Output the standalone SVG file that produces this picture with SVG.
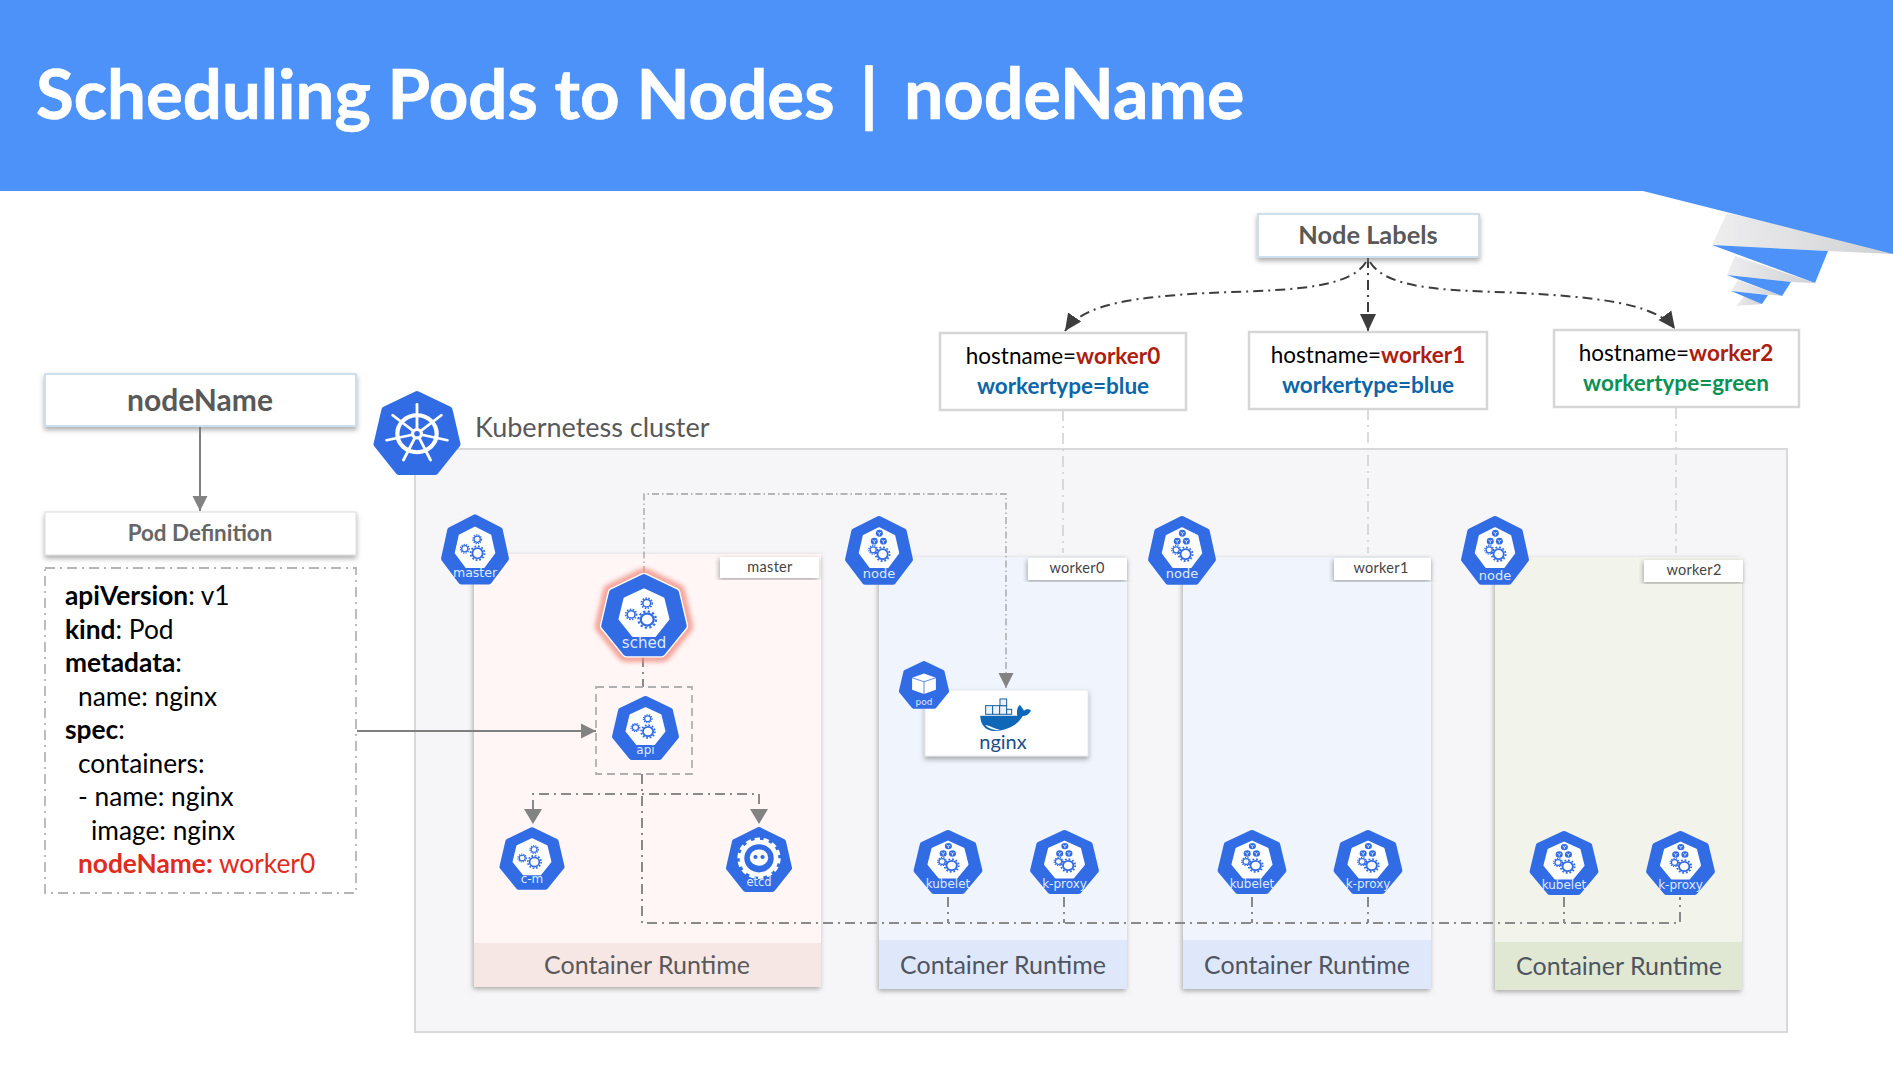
<svg xmlns="http://www.w3.org/2000/svg" xmlns:xlink="http://www.w3.org/1999/xlink" width="1893" height="1086" viewBox="0 0 1893 1086">
<style>
text{font-family:"Lato","Carlito","Open Sans","Noto Sans",sans-serif}
.hl{fill:#dfeafc;text-anchor:middle;font-family:"DejaVu Sans","Noto Sans",sans-serif}
.rt{font-size:25px;text-anchor:middle}
.tag{font-size:14.5px;fill:#444;text-anchor:middle;letter-spacing:.3px}
.tagbox{fill:#fff}
.y{font-size:26.3px;fill:#000}
.b{font-weight:700}
.lab{font-size:22.5px;fill:#000;text-anchor:middle}
.w{font-weight:700;fill:#ad1d10}
.bl{font-weight:700;fill:#0c66a8}
.gr{font-weight:700;fill:#0b9153}
.lb{fill:#fff;stroke:#d6d6d6;stroke-width:2.5}
.hbox{fill:#fff;stroke:#cddfed;stroke-width:2;filter:url(#sh)}
.dd{fill:none;stroke:#8a8a8a;stroke-width:2;stroke-dasharray:10 5 2 5}
.thin{fill:none;stroke:#a0a0a0;stroke-width:1.3;stroke-dasharray:7 3 1.5 3}
.dk{fill:none;stroke:#3d3d3d;stroke-width:2;stroke-dasharray:10 5 2 5}
.lt{fill:none;stroke:#cfcfcf;stroke-width:1.5;stroke-dasharray:11 5 2 5}
.sol{fill:none;stroke:#7f7f7f;stroke-width:2}
.dash{fill:none;stroke:#b0b0b0;stroke-width:1.8;stroke-dasharray:8 5}
.gear{fill:none;stroke:#326ce5}
</style>
<defs>
<filter id="sh" x="-10%" y="-10%" width="120%" height="130%"><feDropShadow dx="0" dy="3" stdDeviation="2.5" flood-color="#777" flood-opacity=".6"/></filter>
<filter id="pn" x="-5%" y="-5%" width="110%" height="110%"><feDropShadow dx="-1" dy="2" stdDeviation="2.4" flood-color="#666" flood-opacity=".55"/></filter>
<filter id="glow" x="-20%" y="-20%" width="140%" height="140%"><feGaussianBlur stdDeviation="5"/></filter>
<linearGradient id="rib" x1="0" x2="1"><stop offset="0" stop-color="#eeeeef"/><stop offset="1" stop-color="#cfd0d3"/></linearGradient>
<marker id="ag" markerUnits="userSpaceOnUse" markerWidth="16" markerHeight="16" refX="15" refY="8" orient="auto"><path d="M0,0.5L15,8L0,15.5Z" fill="#838383"/></marker>
<marker id="ad" markerUnits="userSpaceOnUse" markerWidth="18" markerHeight="18" refX="17" refY="9" orient="auto"><path d="M0,1L17,9L0,17Z" fill="#3d3d3d"/></marker>
<path id="hp" d="M0,-92L68,-57L85,21L38,83L-38,83L-85,21L-68,-57Z" fill="#326ce5" stroke="#326ce5" stroke-width="16" stroke-linejoin="round"/>
<g id="g-lg"><circle r="14" class="gear" stroke-width="5"/><circle r="19" class="gear" stroke-width="5" stroke-dasharray="5 5"/></g>
<g id="g-sm"><circle r="8.5" class="gear" stroke-width="3.5"/><circle r="12" class="gear" stroke-width="3.5" stroke-dasharray="3.4 3.1"/></g>
<g id="ic-ctl">
<use xlink:href="#hp"/>
<path d="M0,-64L42,-43L53,5L24,44L-24,44L-53,5L-42,-43Z" fill="#fff" stroke="#fff" stroke-width="5" stroke-linejoin="round"/>
<use xlink:href="#g-lg" transform="translate(7,6)"/>
<use xlink:href="#g-sm" transform="translate(6,-32)"/>
<use xlink:href="#g-sm" transform="translate(-28,-6)"/>
</g>
<g id="cube"><circle r="9.5" fill="#326ce5"/><path d="M-5,-3L0,0L5,-3M0,0V6" fill="none" stroke="#fff" stroke-width="2"/></g>
<g id="ic-node">
<use xlink:href="#hp"/>
<path d="M0,-66L42,-45L53,3L24,42L-24,42L-53,3L-42,-45Z" fill="#fff" stroke="#fff" stroke-width="5" stroke-linejoin="round"/>
<use xlink:href="#cube" transform="translate(1,-52)"/>
<use xlink:href="#cube" transform="translate(-13,-30)"/>
<use xlink:href="#cube" transform="translate(12,-30)"/>
<use xlink:href="#g-lg" transform="translate(10,6)"/>
<use xlink:href="#g-sm" transform="translate(-16,-6)"/>
</g>
</defs>
<rect width="1893" height="1086" fill="#fff"/>
<g id="banner">
<path d="M1727,213L1712,245L1827,251L1893,254L1893,250Z" fill="url(#rib)"/>
<path d="M1735,256L1727,275L1791,282L1815,283Z" fill="url(#rib)"/>
<path d="M1738,280L1731,291L1782,296Z" fill="url(#rib)"/>
<path d="M1748,292L1736,306L1762,304Z" fill="url(#rib)"/>
<path d="M0,0H1893V254L1643,191H0Z" fill="#4d92f8"/>
<path d="M1712,245L1828,251L1815,283Z" fill="#4d92f8"/>
<path d="M1727,275L1791,282L1782,296Z" fill="#4d92f8"/>
<path d="M1731,291L1768,295L1762,304Z" fill="#4d92f8"/>
<text y="119" font-size="69" font-weight="700" fill="#fff" stroke="#fff" stroke-width=".7"><tspan x="36">Scheduling Pods to Nodes</tspan> <tspan x="860">|</tspan> <tspan x="904" font-size="70">nodeName</tspan></text>
</g>
<g id="cluster">
<rect x="415" y="449" width="1372" height="583" fill="#f6f6f8" stroke="#d9d9dc" stroke-width="2"/>
<text x="475" y="437" font-size="27" fill="#595959">Kubernetess cluster</text>
<g transform="translate(417,435) scale(.468,.44)">
<use xlink:href="#hp"/>
<g fill="none" stroke="#fff">
<circle cy="-3" r="42" stroke-width="9"/>
<g stroke-width="6" stroke-linecap="round"><path d="M0,-3V-70"/><path d="M0,-3L52,-45"/><path d="M0,-3L65,12"/><path d="M0,-3L29,57"/><path d="M0,-3L-29,57"/><path d="M0,-3L-65,12"/><path d="M0,-3L-52,-45"/></g>
</g>
<circle cy="-3" r="13" fill="#fff"/><circle cy="-3" r="6" fill="#326ce5"/>
</g>
</g>
<g id="panel-master">
<rect x="474" y="554" width="347" height="433" fill="#fff6f5" filter="url(#pn)"/>
<rect x="474" y="943" width="347" height="44" fill="#f6e6e4"/>
<text class="rt" x="647" y="974" fill="#595959">Container Runtime</text>
<rect class="tagbox" x="720" y="557" width="99" height="21" filter="url(#pn)"/>
<text class="tag" x="770" y="572">master</text>
</g>
<g id="panel-worker0">
<rect x="879" y="557" width="248" height="432" fill="#eff4fd" filter="url(#pn)"/>
<rect x="879" y="940" width="248" height="49" fill="#dfe8fb"/>
<text class="rt" x="1003" y="974" fill="#4f5560">Container Runtime</text>
<rect class="tagbox" x="1028" y="558" width="99" height="22" filter="url(#pn)"/>
<text class="tag" x="1077" y="573">worker0</text>
</g>
<g id="panel-worker1">
<rect x="1183" y="557" width="248" height="432" fill="#eff4fd" filter="url(#pn)"/>
<rect x="1183" y="940" width="248" height="49" fill="#dfe8fb"/>
<text class="rt" x="1307" y="974" fill="#4f5560">Container Runtime</text>
<rect class="tagbox" x="1334" y="558" width="97" height="22" filter="url(#pn)"/>
<text class="tag" x="1381" y="573">worker1</text>
</g>
<g id="panel-worker2">
<rect x="1495" y="557" width="247" height="433" fill="#f2f4ec" filter="url(#pn)"/>
<rect x="1495" y="942" width="247" height="48" fill="#e0e8d3"/>
<text class="rt" x="1619" y="975" fill="#4f5560">Container Runtime</text>
<rect class="tagbox" x="1644" y="560" width="99" height="22" filter="url(#pn)"/>
<text class="tag" x="1694" y="575">worker2</text>
</g>
<g id="connectors">
<path class="sol" d="M200,427V511" marker-end="url(#ag)"/>
<path class="sol" d="M357,731H596" marker-end="url(#ag)"/>
<path class="thin" d="M644,573V494H1006V688" marker-end="url(#ag)"/>
<path class="dd" d="M643,657V687"/>
<path class="dd" d="M642,774V923H1680V897"/>
<path class="dd" d="M533,810V794H759V810"/>
<path d="M524,809H542L533,824ZM750,809H768L759,824Z" fill="#838383"/>
<path class="dd" d="M948,897V923M1064,897V923M1252,897V923M1368,897V923M1564,897V923"/>
<path class="dk" d="M1368,258V331" marker-end="url(#ad)"/>
<path class="dk" d="M1366,262C1348,292 1270,290 1207,293C1140,297 1085,302 1065,331" marker-end="url(#ad)"/>
<path class="dk" d="M1370,262C1388,292 1460,290 1521,293C1590,297 1655,302 1675,329" marker-end="url(#ad)"/>
<path class="lt" d="M1063,410V553M1368,409V553M1676,408V553"/>
</g>
<g id="nodeName-box"><rect class="hbox" x="45" y="374" width="311" height="52"/><text x="200" y="411" font-size="30" font-weight="700" fill="#595959" text-anchor="middle">nodeName</text></g>
<g id="podDefinition-box"><rect x="45" y="512" width="311" height="43" fill="#fff" stroke="#ddd" filter="url(#sh)"/><text x="200" y="541" font-size="22.4" font-weight="700" fill="#666" text-anchor="middle">Pod Definition</text></g>
<g id="podSpec">
<rect x="45" y="568" width="311" height="325" fill="#fff" stroke="#b5b5b5" stroke-width="1.8" stroke-dasharray="10 5 2 5"/>
<text class="y" x="65" y="605"><tspan class="b">apiVersion</tspan>: v1</text>
<text class="y" x="65" y="638.500"><tspan class="b">kind</tspan>: Pod</text>
<text class="y" x="65" y="672"><tspan class="b">metadata</tspan>:</text>
<text class="y" x="78" y="705.500">name: nginx</text>
<text class="y" x="65" y="739"><tspan class="b">spec</tspan>:</text>
<text class="y" x="78" y="772.500">containers:</text>
<text class="y" x="78" y="806">- name: nginx</text>
<text class="y" x="91" y="839.500">image: nginx</text>
<text class="y" x="78" y="873" style="fill:#e02b1d"><tspan class="b">nodeName:</tspan> worker0</text>
</g>
<g id="nodeLabels-box"><rect class="hbox" x="1258" y="214" width="221" height="43"/><text x="1368" y="244" font-size="25.4" font-weight="700" fill="#595959" text-anchor="middle">Node Labels</text></g>
<g id="labels-worker0"><rect class="lb" x="940" y="333" width="246" height="77"/><text class="lab" x="1063" y="364">hostname=<tspan class="w">worker0</tspan></text><text class="lab" x="1063" y="394"><tspan class="bl">workertype=blue</tspan></text></g>
<g id="labels-worker1"><rect class="lb" x="1249" y="332" width="238" height="77"/><text class="lab" x="1368" y="363">hostname=<tspan class="w">worker1</tspan></text><text class="lab" x="1368" y="393"><tspan class="bl">workertype=blue</tspan></text></g>
<g id="labels-worker2"><rect class="lb" x="1554" y="330" width="245" height="77"/><text class="lab" x="1676" y="361">hostname=<tspan class="w">worker2</tspan></text><text class="lab" x="1676" y="391"><tspan class="gr">workertype=green</tspan></text></g>
<g id="master"><use xlink:href="#ic-ctl" transform="translate(475,551) scale(.365,.367)"/><text class="hl" x="475" y="577" font-size="12.5">master</text></g>
<g id="sched">
<path d="M0,-92L68,-57L85,21L38,83L-38,83L-85,21L-68,-57Z" transform="translate(644,617) scale(.46,.43)" fill="#f08d80" stroke="#f08d80" stroke-width="44" stroke-linejoin="round" opacity=".75" filter="url(#glow)"/>
<path d="M0,-92L68,-57L85,21L38,83L-38,83L-85,21L-68,-57Z" transform="translate(644,617) scale(.46,.43)" fill="#fff" stroke="#fff" stroke-width="22" stroke-linejoin="round"/>
<use xlink:href="#ic-ctl" transform="translate(644,617) scale(.46,.43)"/><text class="hl" x="644" y="648" font-size="15">sched</text></g>
<g id="apiBox"><rect class="dash" x="596" y="687" width="96" height="87"/></g>
<g id="api"><use xlink:href="#ic-ctl" transform="translate(645.5,729.500) scale(.36,.335)"/><text class="hl" x="645.5" y="754" font-size="12">api</text></g>
<g id="c-m"><use xlink:href="#ic-ctl" transform="translate(532,860) scale(.35,.328)"/><text class="hl" x="532" y="883" font-size="12">c-m</text></g>
<g id="etcd"><g transform="translate(759,861) scale(.355,.34)"><use xlink:href="#hp"/><circle cy="-8" r="48" fill="none" stroke="#fff" stroke-width="13"/><circle cy="-8" r="56" fill="none" stroke="#fff" stroke-width="10" stroke-dasharray="15 10"/><ellipse cy="-10" rx="26" ry="24" fill="#fff"/><circle cx="-10" cy="-12" r="6" fill="#326ce5"/><circle cx="10" cy="-12" r="6" fill="#326ce5"/></g><text class="hl" x="759" y="886" font-size="11.5">etcd</text></g>
<g id="node-w0"><use xlink:href="#ic-node" transform="translate(879,552) scale(.365,.361)"/><text class="hl" x="879" y="578" font-size="13">node</text></g>
<g id="node-w1"><use xlink:href="#ic-node" transform="translate(1182,552) scale(.365,.361)"/><text class="hl" x="1182" y="578" font-size="13">node</text></g>
<g id="node-w2"><use xlink:href="#ic-node" transform="translate(1495,552) scale(.365,.361)"/><text class="hl" x="1495" y="580" font-size="13">node</text></g>
<g id="nginx">
<rect x="925" y="690" width="163" height="66" fill="#fff" stroke="#e4e8f0" filter="url(#sh)"/>
<g transform="translate(830,500) scale(.3333)">
<g fill="#eaf2fa" stroke="#1a5e9e" stroke-width="3"><rect x="467" y="617" width="21" height="26"/><rect x="488" y="617" width="21" height="26"/><rect x="509" y="617" width="21" height="26"/><rect x="510" y="597" width="20" height="20"/><rect x="530" y="628" width="15" height="15"/></g>
<path d="M451,647H562C558,630 566,615 570,615C576,622 580,628 582,632C590,626 598,627 603,632C598,642 588,648 578,648C560,680 525,693 490,693C465,693 450,670 451,647Z" fill="#0f67b8"/>
<path d="M465,675C478,688 495,691 510,690C490,684 478,677 465,675Z" fill="#fff"/>
</g>
<text x="1003" y="749" font-size="20" fill="#1a4f8a" text-anchor="middle">nginx</text>
</g>
<g id="pod"><g transform="translate(924,686) scale(.27,.25)"><use xlink:href="#hp"/><path d="M0,-50L44,-33V15L0,32L-44,15V-33Z" fill="#fff"/><path d="M-44,-33L0,-17L44,-33M0,-17V32" fill="none" stroke="#326ce5" stroke-width="3"/></g><text class="hl" x="924" y="705" font-size="9">pod</text></g>
<g id="kubelet-w0"><use xlink:href="#ic-node" transform="translate(948,863.500) scale(.37,.335)"/><text class="hl" x="948" y="888" font-size="12">kubelet</text></g>
<g id="kproxy-w0"><use xlink:href="#ic-node" transform="translate(1064.5,863.500) scale(.37,.335)"/><text class="hl" x="1064.5" y="888" font-size="12">k-proxy</text></g>
<g id="kubelet-w1"><use xlink:href="#ic-node" transform="translate(1252,863.500) scale(.37,.335)"/><text class="hl" x="1252" y="888" font-size="12">kubelet</text></g>
<g id="kproxy-w1"><use xlink:href="#ic-node" transform="translate(1368,863.500) scale(.37,.335)"/><text class="hl" x="1368" y="888" font-size="12">k-proxy</text></g>
<g id="kubelet-w2"><use xlink:href="#ic-node" transform="translate(1564,864.500) scale(.37,.335)"/><text class="hl" x="1564" y="889" font-size="12">kubelet</text></g>
<g id="kproxy-w2"><use xlink:href="#ic-node" transform="translate(1680.5,864.500) scale(.37,.335)"/><text class="hl" x="1680.5" y="889" font-size="12">k-proxy</text></g>
</svg>
